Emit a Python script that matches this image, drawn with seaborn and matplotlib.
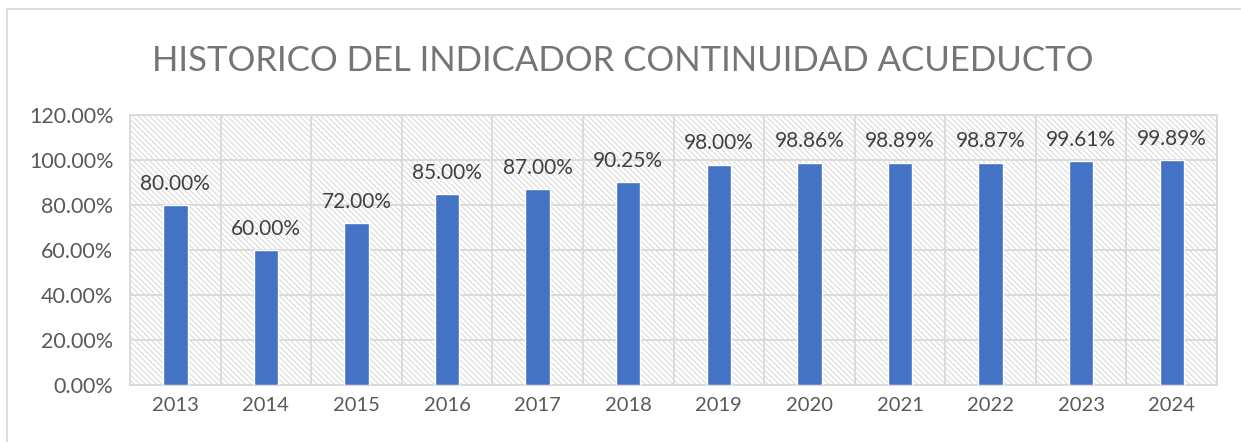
import matplotlib

matplotlib.use("Agg")
import matplotlib.pyplot as plt
import numpy as np
import pandas as pd
import seaborn as sns
from matplotlib.lines import Line2D
from matplotlib.patches import Rectangle

# ---------------------------------------------------------------------------
# Data
# ---------------------------------------------------------------------------
years = ["2013", "2014", "2015", "2016", "2017", "2018",
         "2019", "2020", "2021", "2022", "2023", "2024"]
continuidad = [80.00, 60.00, 72.00, 85.00, 87.00, 90.25,
               98.00, 98.86, 98.89, 98.87, 99.61, 99.89]
y_ticks = [0, 20, 40, 60, 80, 100, 120]

TITLE = "HISTORICO DEL INDICADOR CONTINUIDAD ACUEDUCTO"
BAR_COLOR = "#4472C4"
GRID = "#D9D9D9"
TEXT = "#595959"

sns.set_theme(style="white")
plt.rcParams["font.family"] = ["Lato", "DejaVu Sans"]
plt.rcParams["hatch.color"] = "#D6D6D6"
plt.rcParams["hatch.linewidth"] = 0.7

df = pd.DataFrame({"year": years, "value": continuidad})

fig = plt.figure(figsize=(12.41, 4.42), dpi=100)
ax = fig.add_axes([0.1048, 0.129, 0.9807 - 0.1048, 0.7398 - 0.129])

# hatched plot-area background
ax.add_patch(Rectangle((0, 0), 1, 1, transform=ax.transAxes, facecolor="white",
                       edgecolor="#D6D6D6", hatch="\\" * 6, linewidth=0,
                       zorder=0))

sns.barplot(data=df, x="year", y="value", color=BAR_COLOR, width=0.27,
            saturation=1, ax=ax, zorder=3)

ax.set_ylim(0, 120)
ax.set_xlim(-0.5, len(years) - 0.5)
ax.set_yticks(y_ticks)
ax.set_yticklabels([f"{t:.2f}%" for t in y_ticks])
ax.set_xticks(np.arange(-0.5, len(years), 1.0), minor=True)
ax.grid(axis="y", which="major", color=GRID, linewidth=1.3, zorder=1)
ax.grid(axis="x", which="minor", color=GRID, linewidth=1.3, zorder=1)
ax.grid(axis="x", which="major", visible=False)
ax.set_axisbelow(True)
for s in ax.spines.values():
    s.set_color(GRID)
    s.set_linewidth(1.3)

ax.tick_params(axis="both", which="both", length=0, labelcolor=TEXT)
ax.tick_params(axis="y", labelsize=15.5, pad=12)
ax.tick_params(axis="x", labelsize=14.5, pad=9)
ax.set_xlabel("")
ax.set_ylabel("")

ax.bar_label(ax.containers[0], labels=[f"{v:.2f}%" for v in continuidad],
             padding=8, fontsize=15, color="#404040")

fig.text(0.502, 0.862, TITLE, ha="center", va="center", fontsize=25,
         color="#757575")

# chart frame (left and top edges visible)
fig.add_artist(Line2D([7 / 1241, 7 / 1241], [0, 1 - 9 / 442],
                      color="#D9D9D9", linewidth=1.3))
fig.add_artist(Line2D([7 / 1241, 1], [1 - 9 / 442, 1 - 9 / 442],
                      color="#D9D9D9", linewidth=1.3))

fig.savefig("out.png", dpi=100)
